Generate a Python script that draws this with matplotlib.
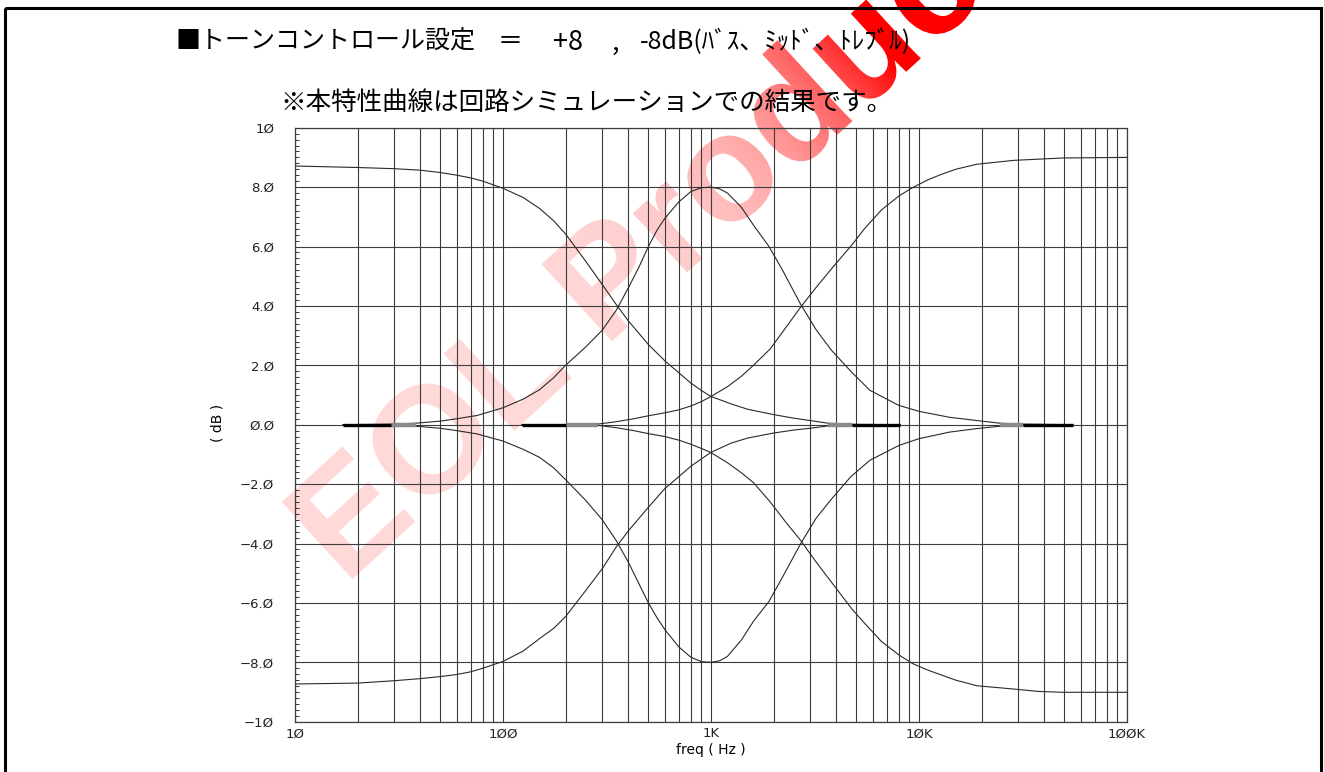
import numpy as np
import matplotlib
matplotlib.use("Agg")
import matplotlib.pyplot as plt
import matplotlib.transforms as mtransforms
from matplotlib.ticker import FixedLocator, LogLocator, MultipleLocator, NullFormatter
from matplotlib.textpath import TextPath
from matplotlib.patches import PathPatch, Rectangle
from matplotlib.font_manager import FontProperties

plt.rcParams["font.family"] = ["Noto Sans CJK JP", "DejaVu Sans"]

# bass +8 / -8 dB
bass_f = [10, 20, 30, 40, 50, 60, 70, 80, 100, 125, 150, 175, 200, 250, 300, 350,
          400, 500, 600, 700, 800, 900, 1000, 1250, 1500, 2000, 2500, 3000, 3650, 5000, 8100]
bass_up = [8.71, 8.66, 8.62, 8.57, 8.49, 8.40, 8.31, 8.20, 7.96, 7.65, 7.28, 6.87, 6.42, 5.50, 4.72, 4.05,
           3.50, 2.70, 2.15, 1.75, 1.40, 1.15, 0.95, 0.70, 0.52, 0.34, 0.22, 0.14, 0.05, 0.01, 0.0]
bass_dn = [-8.73, -8.70, -8.62, -8.55, -8.48, -8.41, -8.32, -8.20, -7.97, -7.62, -7.20, -6.86, -6.46, -5.58, -4.85, -4.12,
           -3.58, -2.78, -2.15, -1.75, -1.40, -1.15, -0.93, -0.62, -0.45, -0.28, -0.18, -0.12, -0.04, -0.01, 0.0]

# mid +8 / -8 dB
mid_f = [17, 30, 38, 50, 60, 75, 100, 125, 150, 175, 200, 250, 300, 350, 400, 450, 500, 550, 600, 700, 800,
         900, 1000, 1100, 1200, 1400, 1600, 1900, 2200, 2700, 3200, 3800, 4700, 5800, 8000, 10000,
         14000, 19000, 24500, 31600, 55000]
mid_up = [0.0, 0.02, 0.05, 0.12, 0.20, 0.31, 0.57, 0.86, 1.18, 1.58, 2.00, 2.62, 3.18, 3.85, 4.60, 5.30, 6.00, 6.55, 6.95, 7.50, 7.85,
          7.98, 8.00, 7.94, 7.80, 7.32, 6.72, 6.00, 5.22, 4.05, 3.20, 2.50, 1.80, 1.16, 0.65, 0.45,
          0.25, 0.14, 0.05, 0.02, 0.0]
mid_dn = [0.0, -0.02, -0.05, -0.12, -0.20, -0.31, -0.55, -0.83, -1.10, -1.45, -1.85, -2.55, -3.20, -3.90, -4.62, -5.35, -6.00, -6.50, -6.90, -7.48, -7.83,
          -7.98, -8.00, -7.95, -7.80, -7.25, -6.62, -5.95, -5.15, -4.00, -3.15, -2.50, -1.75, -1.20, -0.70, -0.47,
          -0.25, -0.13, -0.05, -0.02, 0.0]

# treble +8 / -8 dB
treble_f = [123, 200, 285, 350, 425, 500, 600, 700, 800, 900, 1000, 1200, 1400, 1600, 1930, 2300, 2700,
            3200, 3850, 4750, 5500, 6600, 8000, 9300, 11000, 12500, 15000, 19000, 28500, 37500, 49000, 100000]
treble_up = [0.0, 0.005, 0.02, 0.10, 0.20, 0.30, 0.40, 0.50, 0.63, 0.78, 0.95, 1.28, 1.63, 2.00, 2.56, 3.29, 3.96,
             4.62, 5.30, 6.05, 6.62, 7.23, 7.70, 7.98, 8.24, 8.40, 8.60, 8.77, 8.90, 8.94, 8.98, 9.00]
treble_dn = [0.0, -0.005, -0.02, -0.10, -0.20, -0.30, -0.40, -0.52, -0.66, -0.80, -0.94, -1.28, -1.62, -1.95, -2.61, -3.30, -3.90,
             -4.62, -5.36, -6.20, -6.70, -7.30, -7.75, -8.04, -8.26, -8.40, -8.60, -8.79, -8.90, -8.98, -9.01, -9.01]

# flat 0 dB stretches where the +/- traces overlap
flat_black = [(17, 29), (123, 200), (4760, 8100), (31600, 55000)]
flat_gray = [(29, 38), (200, 285), (3650, 4760), (24500, 31600)]

# title pieces: text, x position (px), font size
title_parts = [("■トーンコントロール設定", 175, 18), ("＝", 498, 18), ("+8", 553, 19.5),
               (",", 612, 19.5), ("-8dB(ﾊﾞｽ、ﾐｯﾄﾞ、ﾄﾚﾌﾞﾙ)", 640, 18)]
note = "※本特性曲線は回路シミュレーションでの結果です。"
y_ticks = [10, 8, 6, 4, 2, 0, -2, -4, -6, -8, -10]
y_labels = ["1Ø", "8.Ø", "6.Ø", "4.Ø", "2.Ø", "Ø.Ø", "−2.Ø", "−4.Ø", "−6.Ø", "−8.Ø", "−1Ø"]
x_ticks = [10, 100, 1000, 10000, 100000]
x_labels = ["1Ø", "1ØØ", "1K", "1ØK", "1ØØK"]

W, H = 1324, 772
fig = plt.figure(figsize=(W / 100, H / 100), dpi=100)

# background layer: frame and watermark
bg = fig.add_axes([0, 0, 1, 1], zorder=0)
bg.set_xlim(0, W)
bg.set_ylim(H, 0)
bg.set_aspect("auto")
bg.axis("off")
bg.add_patch(Rectangle((5, 8), 1316, 770, fill=False, edgecolor="black", lw=2.2))

ang = 42.5
ox, oy = 345, 586
tp = TextPath((0, 0), "EOL Product", size=152,
              prop=FontProperties(family="Liberation Sans", weight="bold"))
tr = mtransforms.Affine2D().scale(1, -1).rotate_deg(-ang).translate(ox, oy)
wm_patch = PathPatch(tr.transform_path(tp), facecolor="none", edgecolor="none",
                     transform=bg.transData)
bg.add_patch(wm_patch)
gx, gy = np.meshgrid(np.linspace(0, W, 220), np.linspace(0, H, 140))
ca, sa = np.cos(np.radians(ang)), np.sin(np.radians(ang))
t = np.clip(((gx - ox) * ca - (gy - oy) * sa) / 760, 0, 1)
fade = 1 - t ** 6
rgba = np.zeros(gx.shape + (4,))
rgba[..., 0] = 1.0
rgba[..., 1] = 0.85 * fade
rgba[..., 2] = 0.85 * fade
rgba[..., 3] = 1.0
img = bg.imshow(rgba, extent=(0, W, H, 0), aspect="auto", interpolation="bilinear")
img.set_clip_path(wm_patch)

for part, px, fs in title_parts:
    fig.text(px / W, 1 - 42 / H, part, fontsize=fs, va="center", ha="left", zorder=5)
fig.text(280 / W, 1 - 103 / H, note, fontsize=18.4, va="center", ha="left", zorder=5)

ax = fig.add_axes([295 / W, 1 - 721.7 / H, 832 / W, 594 / H], zorder=2)
ax.set_facecolor("none")
ax.set_xscale("log")
ax.set_xlim(10, 100000)
ax.set_ylim(-10, 10)

grid_kw = dict(color="#3c3c3c", lw=0.8)
ax.xaxis.set_major_locator(FixedLocator(x_ticks))
ax.xaxis.set_minor_locator(LogLocator(base=10, subs=range(2, 10)))
ax.xaxis.set_minor_formatter(NullFormatter())
ax.set_xticklabels(x_labels)
ax.set_yticks(y_ticks)
ax.set_yticklabels(y_labels)
ax.yaxis.set_minor_locator(MultipleLocator(0.2))
ax.grid(which="both", axis="x", **grid_kw)
ax.grid(which="major", axis="y", **grid_kw)
ax.tick_params(axis="x", which="both", length=0, pad=4, labelsize=9.5, labelcolor="#222")
ax.tick_params(axis="y", which="major", length=0, pad=15, labelsize=9.5, labelcolor="#222")
ax.tick_params(axis="y", which="minor", direction="in", length=3, width=0.7, color="#333")
for lbl in ax.get_xticklabels() + ax.get_yticklabels():
    lbl.set_family("DejaVu Sans")
for s in ax.spines.values():
    s.set_color("#3c3c3c")
    s.set_linewidth(0.9)

curve_kw = dict(color="#2a2a2a", lw=0.8)
for f, up, dn in [(bass_f, bass_up, bass_dn), (mid_f, mid_up, mid_dn),
                  (treble_f, treble_up, treble_dn)]:
    ax.plot(f, up, **curve_kw)
    ax.plot(f, dn, **curve_kw)

for a, b in flat_gray:
    ax.plot([a, b], [0, 0], color="#8a8a8a", lw=3.2, solid_capstyle="butt")
for a, b in flat_black:
    ax.plot([a, b], [0, 0], color="black", lw=2.4, solid_capstyle="butt")

ax.set_xlabel("freq ( Hz )", fontsize=10, family="DejaVu Sans", labelpad=2)
fig.text(218 / W, 1 - 423 / H, "( dB )", rotation=90, fontsize=10,
         family="DejaVu Sans", va="center", ha="center")

fig.savefig("out.png", dpi=100)
